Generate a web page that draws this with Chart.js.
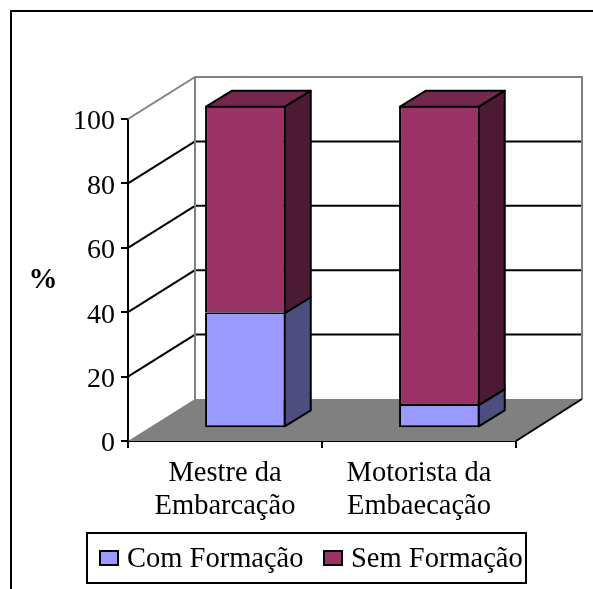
<!DOCTYPE html>
<html lang="pt">
<head>
<meta charset="utf-8">
<title>Formação da tripulação</title>
<script src="https://cdn.jsdelivr.net/npm/chart.js@4/dist/chart.umd.min.js"></script>
<style>
  html, body { margin: 0; padding: 0; background: #fff; }
  #wrap { width: 593px; height: 589px; }
  canvas { display: block; }
</style>
</head>
<body>
<div id="wrap"><canvas id="chart" width="593" height="589"></canvas></div>
<script>
const categories = [['Mestre da', 'Embarcação'], ['Motorista da', 'Embaecação']];
const seriesNames = ['Com Formação', 'Sem Formação'];
const comFormacao = [36, 7.5];
const semFormacao = [64, 92.5];
const yTicks = [0, 20, 40, 60, 80, 100];

const frontColors = ['#9999FF', '#993366'];
const sideColors = ['#4D4D80', '#4D1A33'];
const topColors = ['#4D4D80', '#73274D'];

const FONT = '"Liberation Serif", serif';
const WALL = { dx: 67, dy: -42 };      // depth of the floor from axis plane to back wall
const BAR_PLANE = { dx: 20.4, dy: -12.7, sy: 1.0019 };  // where the bar fronts sit in depth
const BAR_DEPTH = { dx: 26, dy: -16 };
const LEGEND = { left: 87, top: 533, right: 526, bottom: 583, boxTop: 551, boxW: 18, boxH: 14, baseline: 567, boxX: [100, 324], textX: [127, 351] };

// Moves a point on the axis plane to the plane of the bar fronts.
function toBarPlane(chart, x, y) {
  const base = chart.chartArea.bottom;
  return [x + BAR_PLANE.dx, base + BAR_PLANE.dy + (y - base) * BAR_PLANE.sy];
}

function polygon(ctx, pts, fill, stroke, width) {
  ctx.beginPath();
  pts.forEach((p, i) => i ? ctx.lineTo(p[0], p[1]) : ctx.moveTo(p[0], p[1]));
  ctx.closePath();
  if (fill) { ctx.fillStyle = fill; ctx.fill(); }
  if (stroke) { ctx.strokeStyle = stroke; ctx.lineWidth = width; ctx.lineJoin = 'round'; ctx.stroke(); }
}

function line(ctx, x1, y1, x2, y2, color, width) {
  ctx.beginPath();
  ctx.moveTo(x1, y1);
  ctx.lineTo(x2, y2);
  ctx.strokeStyle = color;
  ctx.lineWidth = width;
  ctx.stroke();
}

// Page frame, back wall, side wall gridlines, floor and axis title.
const scenery = {
  id: 'scenery',
  beforeDatasetsDraw(chart) {
    const { ctx, chartArea: a, scales: { y } } = chart;
    const backLeft = a.left + WALL.dx;
    const backRight = a.right + WALL.dx - 1;
    ctx.save();

    line(ctx, 11, 11, chart.width, 11, '#000', 2);
    line(ctx, 11, 10, 11, chart.height, '#000', 2);

    polygon(ctx, [[a.left, a.bottom], [backLeft, a.bottom + WALL.dy], [backRight, a.bottom + WALL.dy], [a.right, a.bottom]], '#808080');

    y.ticks.forEach(t => {
      const py = y.getPixelForValue(t.value);
      if (t.value === 0) return;
      const top = t.value === 100;
      const color = top ? '#808080' : '#000';
      line(ctx, a.left, py, backLeft, py + WALL.dy, color, 2);
      line(ctx, backLeft, py + WALL.dy, backRight, py + WALL.dy, color, 2);
    });
    const wallTop = y.getPixelForValue(100) + WALL.dy;
    const wallBottom = y.getPixelForValue(0) + WALL.dy;
    line(ctx, backLeft, wallTop, backLeft, wallBottom, '#808080', 2);
    line(ctx, backRight, wallTop - 1, backRight, wallBottom, '#808080', 2);
    line(ctx, a.right, a.bottom, backRight, wallBottom, '#000', 2);

    ctx.fillStyle = '#000';
    ctx.font = 'bold 29px ' + FONT;
    ctx.textAlign = 'center';
    ctx.textBaseline = 'middle';
    ctx.fillText('%', 43, 281);
    ctx.restore();
  },

  // Each dataset is drawn on the plane of the bar fronts.
  beforeDatasetDraw(chart) {
    const { ctx, chartArea: a } = chart;
    ctx.save();
    ctx.translate(BAR_PLANE.dx, a.bottom + BAR_PLANE.dy);
    ctx.scale(1, BAR_PLANE.sy);
    ctx.translate(0, -a.bottom);
  },
  afterDatasetDraw(chart) {
    chart.ctx.restore();
  },

  // Side and top faces of the columns, aligned with the inset front borders.
  afterDatasetsDraw(chart) {
    const ctx = chart.ctx;
    const d = BAR_DEPTH;
    const last = chart.data.datasets.length - 1;
    ctx.save();
    chart.data.datasets.forEach((ds, di) => {
      chart.getDatasetMeta(di).data.forEach(bar => {
        const { x, y, base, width } = bar.getProps(['x', 'y', 'base', 'width'], true);
        const yTop = toBarPlane(chart, x, y)[1] + 1;
        const yBase = toBarPlane(chart, x, base)[1] + (di === 0 ? -1 : 1);
        const right = x + BAR_PLANE.dx + width / 2 - 1;
        const left = x + BAR_PLANE.dx - width / 2 + 1;
        polygon(ctx, [[right, yTop], [right + d.dx, yTop + d.dy], [right + d.dx, yBase + d.dy], [right, yBase]], sideColors[di], '#000', 2);
        if (di === last) {
          polygon(ctx, [[left, yTop], [left + d.dx, yTop + d.dy], [right + d.dx, yTop + d.dy], [right, yTop]], topColors[di], '#000', 2);
        }
      });
    });
    ctx.restore();
  },

  // Framed legend below the category labels.
  afterDraw(chart) {
    const ctx = chart.ctx;
    const L = LEGEND;
    ctx.save();
    ctx.strokeStyle = '#000';
    ctx.lineWidth = 2;
    ctx.strokeRect(L.left, L.top, L.right - L.left, L.bottom - L.top);
    ctx.font = '28.5px ' + FONT;
    ctx.textAlign = 'left';
    ctx.textBaseline = 'alphabetic';
    seriesNames.forEach((name, i) => {
      ctx.fillStyle = frontColors[i];
      ctx.fillRect(L.boxX[i], L.boxTop, L.boxW, L.boxH);
      ctx.strokeRect(L.boxX[i], L.boxTop, L.boxW, L.boxH);
      ctx.fillStyle = '#000';
      ctx.fillText(name, L.textX[i], L.baseline);
    });
    ctx.restore();
  }
};

new Chart(document.getElementById('chart'), {
  type: 'bar',
  data: {
    labels: categories,
    datasets: [
      { label: seriesNames[0], data: comFormacao, backgroundColor: frontColors[0], borderColor: '#000', borderWidth: 2, borderSkipped: false },
      { label: seriesNames[1], data: semFormacao, backgroundColor: frontColors[1], borderColor: '#000', borderWidth: 2, borderSkipped: 'start' }
    ]
  },
  options: {
    responsive: false,
    animation: false,
    events: [],
    barPercentage: 0.416,
    categoryPercentage: 1,
    layout: { padding: { left: 0, right: 77, top: 119, bottom: 0 } },
    plugins: {
      tooltip: { enabled: false },
      title: { display: false },
      legend: { display: false }
    },
    scales: {
      x: {
        stacked: true,
        border: { color: '#000', width: 2 },
        grid: { drawOnChartArea: false, color: '#000', lineWidth: 2, tickLength: 7, tickWidth: 2 },
        ticks: { color: '#000', font: { family: FONT, size: 28.5, lineHeight: 1.16 }, padding: 8.5, maxRotation: 0, autoSkip: false },
        afterFit(scale) { scale.height = 148; }
      },
      y: {
        stacked: true,
        min: 0,
        max: 100,
        border: { color: '#000', width: 2 },
        grid: { drawOnChartArea: false, color: '#000', lineWidth: 2, tickLength: 7, tickWidth: 2 },
        // The empty first line, with a 6px line height, sets each number slightly below its tick.
        ticks: { color: '#000', font: { family: FONT, size: 28, lineHeight: '6px' }, padding: 6, stepSize: 20, callback: v => yTicks.includes(v) ? ['', String(v)] : '' },
        afterFit(scale) { scale.width = 128; }
      }
    }
  },
  plugins: [scenery]
});
</script>
</body>
</html>
